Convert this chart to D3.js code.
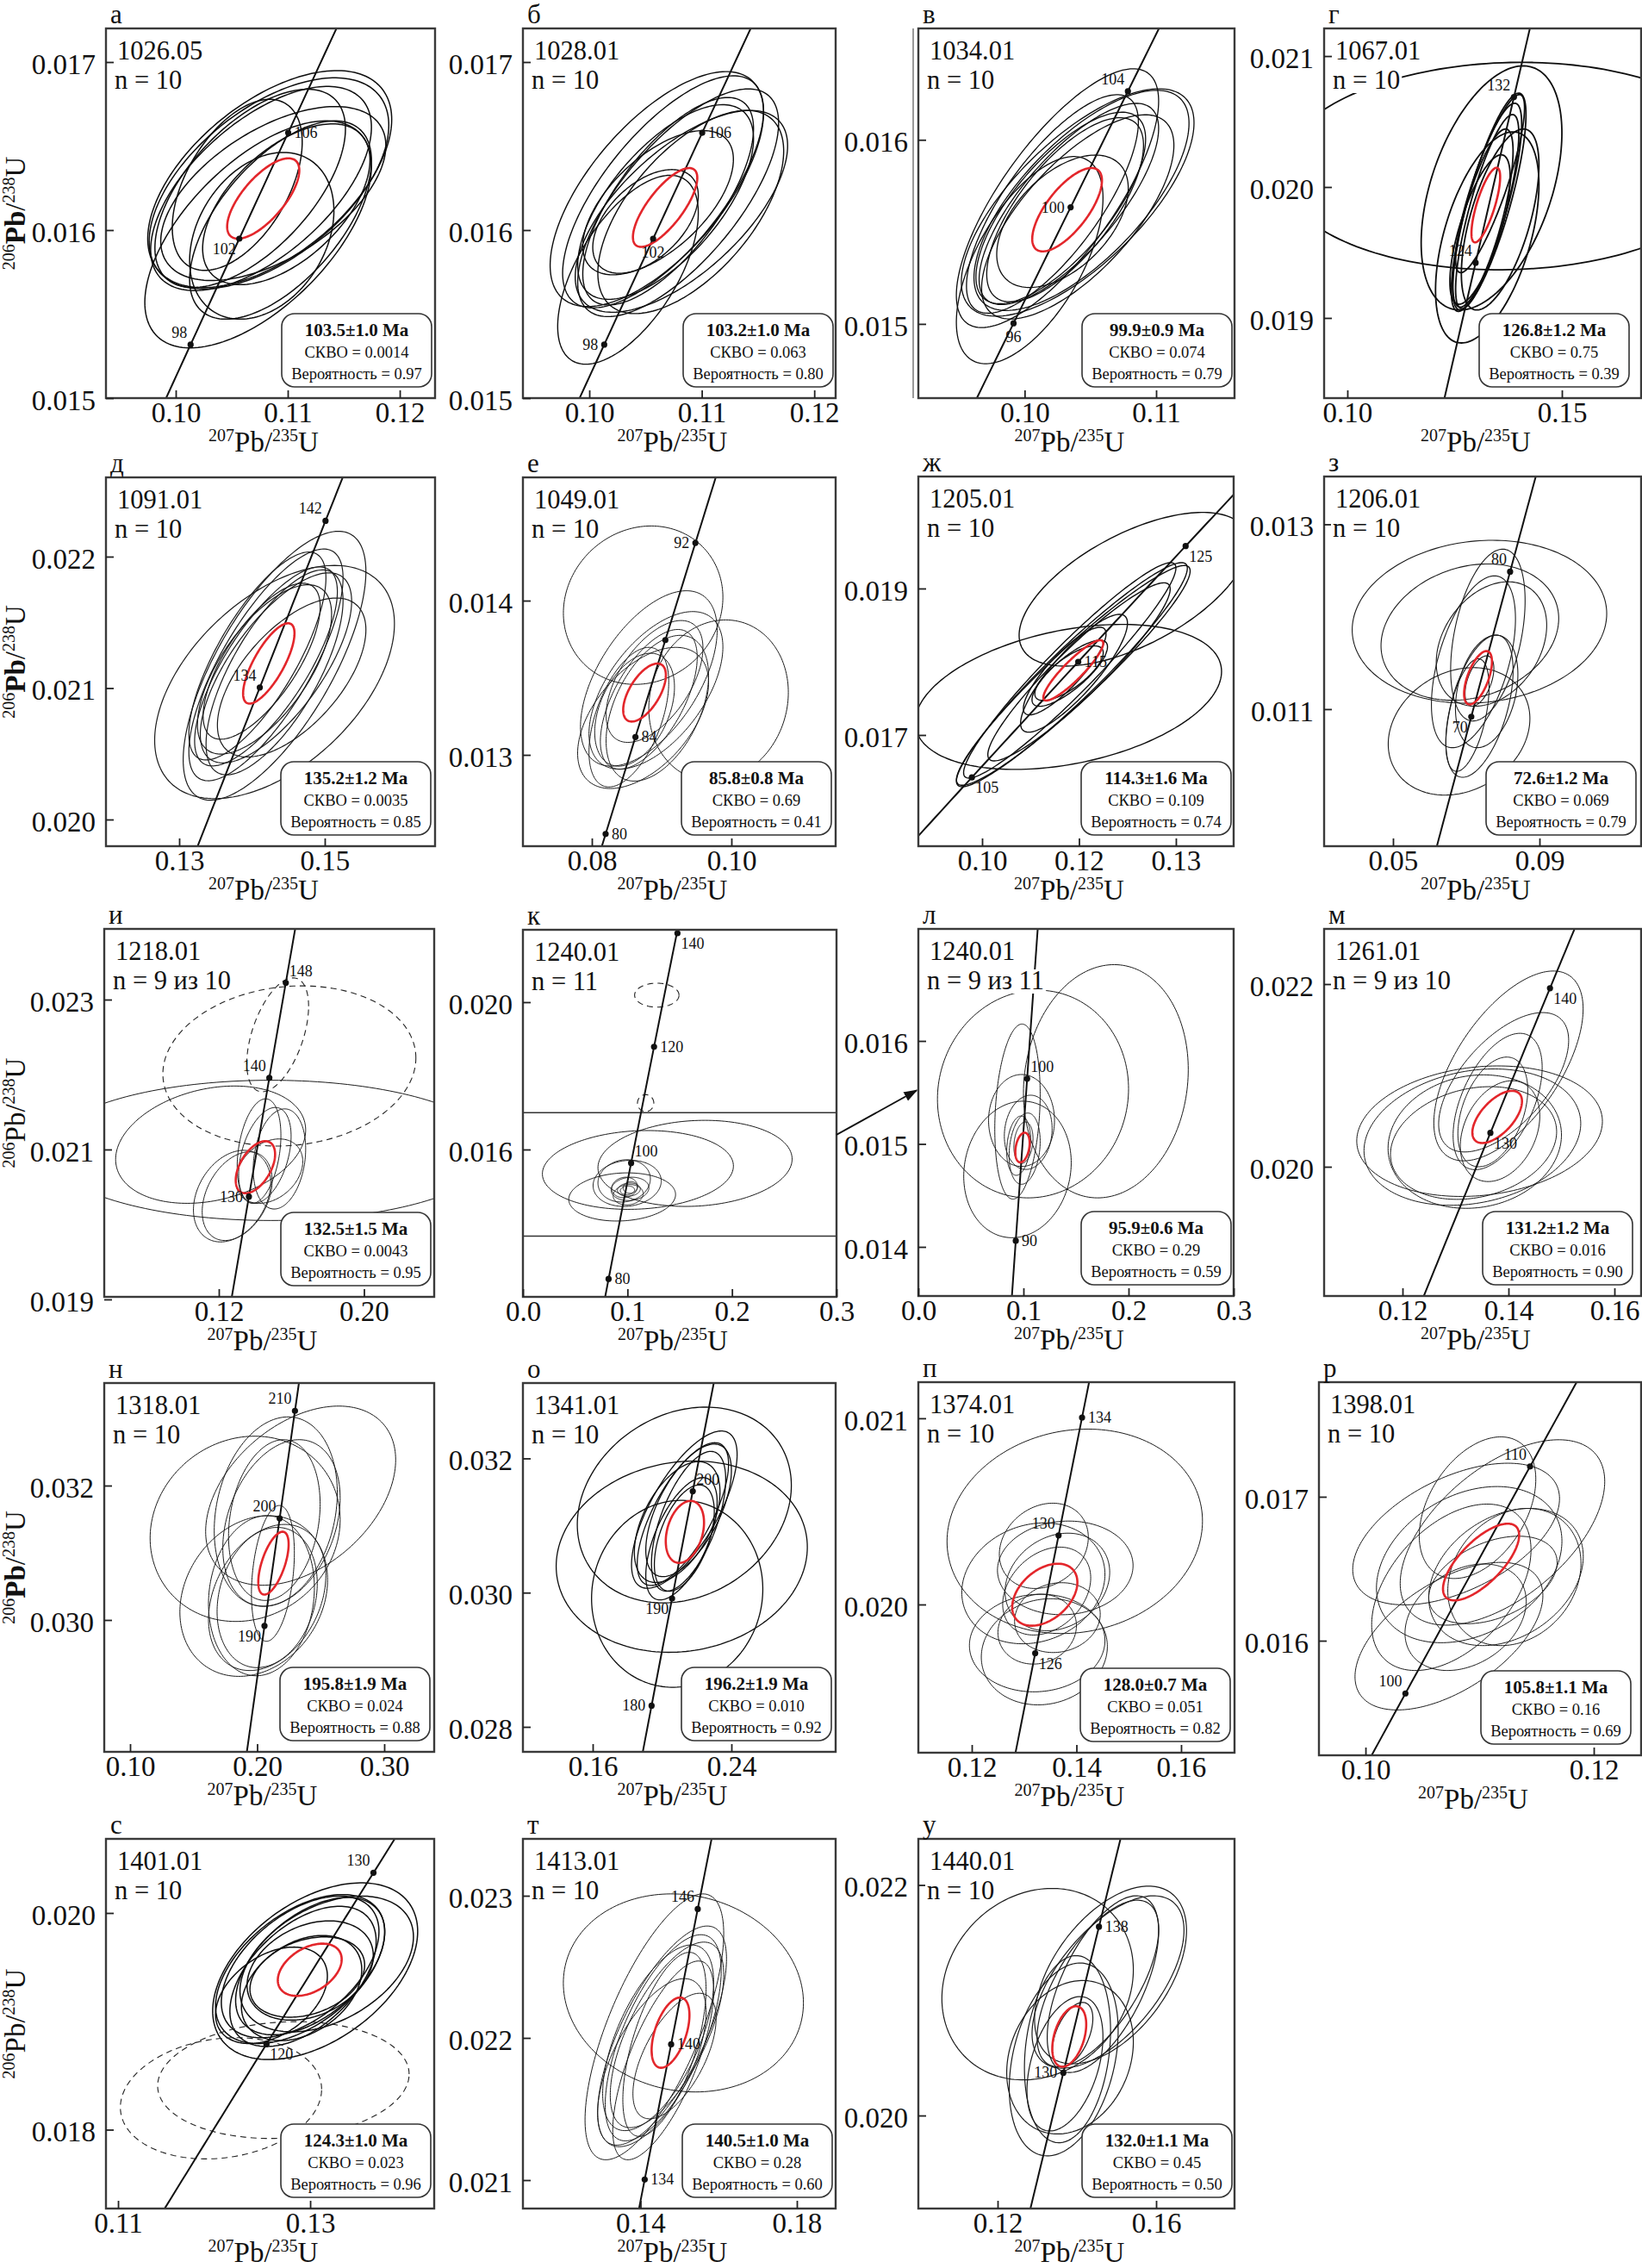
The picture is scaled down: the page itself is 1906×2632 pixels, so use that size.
<!DOCTYPE html>
<html><head><meta charset="utf-8">
<script src="https://cdn.jsdelivr.net/npm/d3@7"></script>
<style>
body{margin:0;background:#fff}
svg{display:block;background:#fff}
text{font-family:"Liberation Serif","Times New Roman",serif;fill:#111}
</style>
</head><body>
<svg id="c" width="1906" height="2632"></svg>
<script>
// ---------------- DATA ----------------
const panelLetters = ['а','б','в','г','д','е','ж','з','и','к','л','м','н','о','п','р','с','т','у'];
const sampleNames = ['1026.05','1028.01','1034.01','1067.01','1091.01','1049.01','1205.01','1206.01','1218.01','1240.01','1240.01','1261.01','1318.01','1341.01','1374.01','1398.01','1401.01','1413.01','1440.01'];
const nLabels = ['n = 10','n = 10','n = 10','n = 10','n = 10','n = 10','n = 10','n = 10','n = 9 из 10','n = 11','n = 9 из 11','n = 9 из 10','n = 10','n = 10','n = 10','n = 10','n = 10','n = 10','n = 10'];
const meanAges = ['103.5±1.0 Ma','103.2±1.0 Ma','99.9±0.9 Ma','126.8±1.2 Ma','135.2±1.2 Ma','85.8±0.8 Ma','114.3±1.6 Ma','72.6±1.2 Ma','132.5±1.5 Ma',null,'95.9±0.6 Ma','131.2±1.2 Ma','195.8±1.9 Ma','196.2±1.9 Ma','128.0±0.7 Ma','105.8±1.1 Ma','124.3±1.0 Ma','140.5±1.0 Ma','132.0±1.1 Ma'];
const mswdValues = ['0.0014','0.063','0.074','0.75','0.0035','0.69','0.109','0.069','0.0043',null,'0.29','0.016','0.024','0.010','0.051','0.16','0.023','0.28','0.45'];
const probValues = ['0.97','0.80','0.79','0.39','0.85','0.41','0.74','0.79','0.95',null,'0.59','0.90','0.88','0.92','0.82','0.69','0.96','0.60','0.50'];

const xDomains = [[0.09377,0.12315],[0.0941,0.1219],[0.09192,0.11596],[0.09458,0.16847],[0.11994,0.16515],[0.07012,0.11494],[0.10342,0.13596],[0.03118,0.11776],[0.05685,0.2387],[0,0.3],[0,0.3],[0.1052,0.16504],[0.07966,0.33932],[0.11975,0.30012],[0.10979,0.17021],[0.09592,0.12415],[0.10874,0.14291],[0.10992,0.18992],[0.1,0.17978]];
const yDomains = [[0.015,0.0172],[0.015,0.0172],[0.014597,0.016605],[0.018388,0.021211],[0.019797,0.022603],[0.012408,0.014799],[0.015482,0.020529],[0.009517,0.013517],[0.019034,0.023943],[0.012,0.021965],[0.013523,0.017088],[0.018585,0.022604],[0.028038,0.033526],[0.027628,0.033123],[0.019204,0.021194],[0.015204,0.017796],[0.017272,0.020684],[0.0208,0.0234],[0.019193,0.0224]];

const xTickValues = [[0.10,0.11,0.12],[0.10,0.11,0.12],[0.10,0.11],[0.10,0.15],[0.13,0.15],[0.08,0.10],[0.11,0.12,0.13],[0.05,0.09],[0.12,0.20],[0,0.1,0.2,0.3],[0,0.1,0.2,0.3],[0.12,0.14,0.16],[0.10,0.20,0.30],[0.16,0.24],[0.12,0.14,0.16],[0.10,0.12],[0.11,0.13],[0.14,0.18],[0.12,0.16]];
const xTickLabels = [['0.10','0.11','0.12'],['0.10','0.11','0.12'],['0.10','0.11'],['0.10','0.15'],['0.13','0.15'],['0.08','0.10'],['0.10','0.12','0.13'],['0.05','0.09'],['0.12','0.20'],['0.0','0.1','0.2','0.3'],['0.0','0.1','0.2','0.3'],['0.12','0.14','0.16'],['0.10','0.20','0.30'],['0.16','0.24'],['0.12','0.14','0.16'],['0.10','0.12'],['0.11','0.13'],['0.14','0.18'],['0.12','0.16']];
const yTickValues = [[0.015,0.016,0.017],[0.015,0.016,0.017],[0.015,0.016],[0.019,0.020,0.021],[0.020,0.021,0.022],[0.013,0.014],[0.017,0.019],[0.011,0.013],[0.019,0.021,0.023],[0.016,0.020],[0.014,0.015,0.016],[0.020,0.022],[0.030,0.032],[0.028,0.030,0.032],[0.020,0.021],[0.016,0.017],[0.018,0.020],[0.021,0.022,0.023],[0.020,0.022]];
const yTickLabels = [['0.015','0.016','0.017'],['0.015','0.016','0.017'],['0.015','0.016'],['0.019','0.020','0.021'],['0.020','0.021','0.022'],['0.013','0.014'],['0.017','0.019'],['0.011','0.013'],['0.019','0.021','0.023'],['0.016','0.020'],['0.014','0.015','0.016'],['0.020','0.022'],['0.030','0.032'],['0.028','0.030','0.032'],['0.020','0.021'],['0.016','0.017'],['0.018','0.020'],['0.021','0.022','0.023'],['0.020','0.022']];

// concordia age marks (Ma)
const concordiaAges = [[98,102,106],[98,102,106],[96,100,104],[124,132],[134,142],[80,84,88,92],[105,115,125],[70,80],[130,140,148],[80,100,120,140],[90,100],[130,140],[190,200,210],[180,190,200],[126,130,134],[100,110],[120,130],[134,140,146],[130,138]];
const showAgeLabel = [[1,1,1],[1,1,1],[1,1,1],[1,1],[1,1],[1,1,0,1],[1,1,1],[1,1],[1,1,1],[1,1,1,1],[1,1],[1,1],[1,1,1],[1,1,1],[1,1,1],[1,1],[1,1],[1,1,1],[1,1]];

// error ellipses: [x min, x max, y min, y max, rho] (207Pb/235U, 206Pb/238U)
const ellA = [[.09724,.11747,.015299,.01665,.6],[.0975,.11928,.015658,.016949,.55],[.09763,.11902,.01565,.016906,.55],[.09776,.11747,.01564,.016855,.6],[.09866,.11876,.0157,.016735,.55],[.09814,.11515,.015658,.016838,.6],[.10124,.11747,.01547,.01665,.6],[.10124,.11412,.01547,.016462,.3],[.09969,.11129,.01576,.016778,.5],[.1024,.11734,.015675,.016632,.55]];
const ellB = [[.09719,.10969,.015202,.016326,.6],[.09652,.11549,.015545,.016943,.65],[.09763,.11549,.015537,.016918,.7],[.09897,.11683,.015485,.01684,.7],[.09875,.11763,.015511,.016712,.65],[.09942,.1146,.015554,.016789,.7],[.09897,.1146,.015588,.016746,.65],[.10076,.11728,.015503,.016712,.6],[.09942,.11281,.015734,.016592,.6],[.10031,.10969,.015743,.01636,.5]];
const ellV = [[.09481,.10596,.014784,.015909,.6],[.09481,.11019,.01498,.016386,.75],[.09519,.11288,.015042,.016277,.7],[.09615,.1125,.015073,.016269,.7],[.09654,.11019,.015105,.016198,.75],[.09558,.10865,.015058,.016245,.75],[.09712,.10904,.01512,.01612,.7],[.09673,.11135,.015027,.016136,.7],[.09788,.10788,.015198,.015917,.5],[.0963,.1092,.01511,.01615,.72]];
const ellG = [[.0844,.1915,.019368,.020952,.05],[.1172,.15,.019061,.020925,.45],[.12055,.14465,.018809,.020421,.5],[.12456,.14163,.019061,.020717,.8],[.12423,.14063,.01905,.02064,.8],[.12523,.13996,.019072,.020553,.8],[.12456,.13862,.019083,.020443,.75],[.1239,.13795,.019105,.020246,.7],[.12523,.1413,.019346,.020706,.85],[.12657,.14465,.019061,.020443,.6]];
const ellD = [[.12663,.15957,.020159,.021933,.5],[.13055,.15565,.020147,.022193,.7],[.13133,.15251,.020295,.022058,.75],[.13212,.15173,.020408,.021922,.75],[.1329,.15369,.020431,.021877,.7],[.13329,.14937,.020611,.021798,.7],[.13133,.15016,.020453,.022035,.75],[.13525,.15565,.020476,.021685,.6],[.13251,.15094,.020498,.021786,.65],[.13369,.15251,.02034,.021899,.7]];
const ellE = [[.07592,.09878,.013457,.014484,.1],[.08816,.10816,.01283,.013875,.1],[.07837,.09796,.012927,.014064,.55],[.07959,.09878,.012908,.013929,.55],[.07796,.09673,.012782,.013697,.5],[.08122,.0951,.012907,.013813,.6],[.07959,.09102,.012792,.013697,.5],[.08204,.09592,.013081,.013871,.55],[.08041,.09184,.012927,.013659,.4],[.08204,.09673,.01283,.013775,.45]];
const ellZh = [[.10309,.13471,.01653,.01851,.35],[.11382,.1375,.017941,.020039,.6],[.10735,.13118,.016294,.019353,.95],[.10735,.13147,.016314,.019314,.95],[.10809,.13,.016412,.019353,.95],[.11059,.12941,.016647,.019078,.93],[.11397,.125,.017039,.018647,.85],[.11426,.12279,.017275,.018471,.85],[.11515,.12294,.017392,.018294,.8],[.11544,.1225,.017471,.018216,.75]];
const ellZ = [[.03885,.10836,.011064,.012827,.1],[.04672,.09525,.011096,.012571,.2],[.04869,.08738,.01007,.011449,.2],[.06574,.08607,.010872,.012731,.4],[.06049,.08344,.010583,.012442,.5],[.0618,.09197,.011032,.012378,.3],[.06443,.08279,.010263,.011801,.5],[.06443,.07623,.010327,.011545,.5],[.06705,.0841,.010583,.011801,.3],[.06967,.07754,.011032,.011577,.5]];
const ellI = [[.0249,.27229,.020053,.021924,0],[.06313,.16787,.020282,.021847,.25],[.10602,.14859,.019767,.020989,.3],[.11084,.1494,.019786,.020969,.35],[.13012,.15422,.020282,.021676,.3],[.13092,.15984,.020282,.021561,.4],[.13896,.16787,.020206,.021542,.2],[.12932,.16627,.020282,.021141,.3]];
const ellK = [[.01863,.20137,.014376,.016515,.1],[.07178,.25753,.014455,.016792,.1],[.04384,.14603,.014059,.015366,.1],[.06712,.13233,.014455,.015707,.1],[.07178,.12192,.014574,.015723,.1],[.08438,.12055,.014614,.015248,.1],[.08493,.10959,.014693,.015248,.1],[.09041,.11233,.014733,.015089,.1],[.0863,.11507,.014495,.01505,.1],[.09315,.10685,.014772,.01501,.1],[.09589,.10959,.014812,.015129,.1]];
const ellL = [[.01818,.2,.014476,.016493,.05],[.1,.25682,.014476,.016741,.1],[.04318,.14545,.014089,.015415,.1],[.06682,.12955,.014781,.015674,0],[.07273,.11591,.014464,.016164,.2],[.08182,.12727,.014752,.015473,.1],[.08636,.11591,.014608,.0153,.2],[.09091,.10909,.01481,.015213,.2],[.08409,.10682,.014695,.015271,.2]];
const ellM = [[.12591,.15409,.020065,.022143,.6],[.11136,.15773,.019675,.021104,.15],[.11273,.15364,.019578,.021071,.2],[.11727,.15,.019545,.021006,.1],[.11773,.14909,.019643,.020877,.2],[.12682,.15136,.020162,.021688,.6],[.12955,.14636,.019968,.021461,.5],[.13045,.14364,.02,.021201,.4],[.13091,.14591,.019838,.020942,.3]];
const ellN = [[.11577,.26532,.029978,.032735,.1],[.13919,.25541,.029161,.031552,.2],[.16171,.24505,.02917,.031552,.1],[.15946,.30901,.030517,.033183,.4],[.16622,.26306,.030204,.033022,.2],[.17297,.26532,.030204,.032683,.3],[.17748,.24955,.030291,.032683,.2],[.16171,.25405,.029248,.031422,.3],[.16847,.2473,.029291,.031378,.2],[.1955,.22928,.029683,.031704,.3]];
const ellO = [[.15111,.27457,.029848,.032764,.2],[.13893,.28379,.029111,.031961,.1],[.15934,.25811,.02859,.031375,.05],[.18239,.24329,.030065,.032408,.7],[.18568,.23835,.030108,.032234,.7],[.19062,.24,.030239,.032213,.6],[.19391,.23671,.030022,.032104,.6],[.18403,.23342,.030152,.031952,.5],[.19062,.23177,.029892,.031714,.6],[.19556,.23012,.030022,.031605,.5]];
const ellP = [[.11527,.16409,.019844,.020942,.1],[.12527,.14227,.020086,.020544,.2],[.11809,.14545,.019789,.020438,.15],[.12491,.15082,.019945,.020448,.05],[.12636,.14636,.019859,.020383,.2],[.12591,.14273,.019836,.020308,.3],[.11955,.14545,.019531,.020055,.05],[.12182,.14591,.019461,.020031,.1],[.125,.14,.01968,.020055,.1],[.12818,.14455,.019742,.020117,.1]];
const ellR = [[.09908,.11554,.015519,.016544,.55],[.09888,.117,.016249,.017233,.5],[.10304,.12096,.016108,.017396,.55],[.10096,.11721,.015986,.017071,.3],[.10471,.11492,.016432,.017416,.4],[.10554,.11908,.015966,.016919,.3],[.10054,.1145,.015793,.016949,.45],[.10346,.11408,.015793,.016533,.3],[.10721,.11888,.015966,.016919,.2],[.10554,.11679,.016118,.016726,.4]];
const ellS = [[.11985,.14119,.018647,.020278,.45],[.12015,.13776,.018795,.02017,.5],[.12075,.13716,.018849,.020156,.5],[.12164,.13687,.018768,.020062,.5],[.12224,.13776,.018876,.020143,.5],[.12269,.14075,.018903,.020156,.4],[.12343,.13657,.019011,.019927,.3],[.12373,.13567,.019038,.019779,.3],[.12015,.13179,.018795,.019685,.4],[.12284,.13537,.018822,.019792,.35]];
const ellT = [[.12026,.18168,.02162,.023013,-.1],[.12581,.16129,.021143,.023013,.7],[.12903,.162,.021246,.022787,.7],[.13097,.16065,.021276,.022726,.65],[.13226,.16129,.021369,.022674,.65],[.13032,.15871,.021348,.022654,.6],[.12903,.15677,.021235,.022417,.6],[.1329,.15871,.021143,.022541,.7],[.13806,.15935,.021431,.022314,.6],[.13548,.15677,.021307,.022602,.6]];
const ellU = [[.10594,.15425,.020309,.02197,.15],[.12933,.16767,.020449,.02199,.5],[.12869,.16703,.020411,.021906,.6],[.12997,.16064,.020423,.021868,.65],[.13252,.16064,.020373,.021906,.6],[.12294,.15042,.01965,.021323,.3],[.12677,.1485,.019764,.021387,.2],[.1223,.15425,.01984,.021171,.2],[.12741,.14658,.019866,.021032,.4],[.1338,.14403,.020423,.020981,.5]];

// excluded analyses (dashed)
const exclI = [[.08916,.22861,.021046,.023183,.1],[.13542,.16948,.021771,.02329,.5]];
const exclK = [[.10685,.14932,.019865,.020515,0],[.10959,.12521,.01703,.017489,0]];
const exclS = [[.11024,.13119,.01773,.018849,.15],[.11412,.1403,.017919,.018997,.1]];

// weighted mean concordia ellipses (red)
const meanEllipses = [[.10459,.11103,.015949,.016427,.7],[.10388,.1096,.0159,.016369,.75],[.10058,.10588,.015394,.015847,.7],[.12892,.13561,.019577,.020147,.75],[.13878,.14584,.020882,.021493,.75],[.08449,.09061,.013216,.013592,.6],[.11632,.1225,.017471,.018294,.9],[.06941,.07702,.011051,.011628,.6],[.12932,.15101,.020416,.021111,.5],null,[.09227,.10591,.014821,.015109,.3],[.13318,.14255,.02026,.020831,.6],[.2009,.22477,.030378,.031313,.6],[.20214,.2242,.030443,.031367,.3],[.12773,.14018,.019886,.020219,.4],[.10679,.11346,.01628,.016813,.7],[.12663,.13328,.019235,.019717,.4],[.14284,.15252,.02179,.022284,.5],[.1338,.14236,.020423,.020948,.4]];

// panel к: zoom window (206Pb/238U) and arrow ends
const zoomWindowY = [0.01365, 0.017];
const arrowFromK = [0.3, 0.0164];
const arrowToL = [0, 0.01552];

// decay constants (1/yr)
const LAMBDA238 = 1.55125e-10, LAMBDA235 = 9.8485e-10;

// ---------------- LAYOUT ----------------
const panelBox = [[123,33,505,462],[607,33,970,462],[1066,33,1433,462],[1537,33,1905,462],[123,554,505,982],[607,554,970,982],[1066,553,1432,982],[1537,553,1905,982],[121,1078,504,1505],[607,1079,971,1505],[1066,1078,1432,1504],[1537,1078,1905,1504],[121,1605,504,2033],[607,1605,970,2033],[1066,1604,1433,2034],[1531,1604,1905,2037],[123,2134,504,2563],[607,2134,970,2563],[1066,2134,1433,2563]];
const ageLabelPos = [['UL','BL','R'],['L','B','R'],['B','L','UL'],['UL','UL'],['UL','UL'],['R','R','R','L'],['BR','R','BR'],['BL','UL'],['L','UL','UR'],['R','UR','R','BR'],['R','UR'],['BR','BR'],['BL','UL','UL'],['L','BL','UR'],['BR','UL','R'],['UL','UL'],['BR','UL'],['R','R','UL'],['L','R']];
const infoInset = [4,3,3,14,5,5,3,6,4,0,3,10,5,5,5,12,4,4,3];
const ellWidth = [1.5,1.4,1.3,1.8,1.2,1.0,1.4,1.1,1.0,1.0,1.0,1.0,1.0,1.3,1.0,1.0,1.5,1.0,1.2];
const yTitleBold = {0:true,4:true,12:true};

const ellipseSets = [ellA,ellB,ellV,ellG,ellD,ellE,ellZh,ellZ,ellI,ellK,ellL,ellM,ellN,ellO,ellP,ellR,ellS,ellT,ellU];
const excludedSets = {8:exclI, 9:exclK, 16:exclS};

const labelOff = {R:['start',7,6],L:['end',-7,6],UL:['end',-4,-8],UR:['start',4,-8],BL:['end',-4,18],BR:['start',4,18],B:['middle',0,22]};

const svg = d3.select('#c');
const defs = svg.append('defs');
defs.append('marker').attr('id','arr').attr('viewBox','0 0 10 10').attr('refX',9).attr('refY',5)
  .attr('markerWidth',9).attr('markerHeight',9).attr('orient','auto')
  .append('path').attr('d','M0,1.5 L10,5 L0,8.5 Z').attr('fill','#111');

function ellipsePoints(e){
  const [x0,x1,y0,y1,r] = e;
  const cx=(x0+x1)/2, cy=(y0+y1)/2, sx=(x1-x0)/2, sy=(y1-y0)/2, q=Math.sqrt(1-r*r);
  return d3.range(0, 2*Math.PI, Math.PI/90).map(t=>[cx+sx*Math.cos(t), cy+sy*(r*Math.cos(t)+q*Math.sin(t))]);
}
function concordia(tMa){ return [Math.exp(LAMBDA235*tMa*1e6)-1, Math.exp(LAMBDA238*tMa*1e6)-1]; }

const scales = [];
panelLetters.forEach((letter,i)=>{
  const [L,T,R,B] = panelBox[i];
  const x = d3.scaleLinear().domain(xDomains[i]).range([L,R]);
  const y = d3.scaleLinear().domain(yDomains[i]).range([B,T]);
  scales.push([x,y]);
  const g = svg.append('g');
  const cid = 'clip'+i;
  defs.append('clipPath').attr('id',cid).append('rect').attr('x',L).attr('y',T).attr('width',R-L).attr('height',B-T);
  const plot = g.append('g').attr('clip-path',`url(#${cid})`);
  const line = d3.line().x(d=>x(d[0])).y(d=>y(d[1]));
  const closed = d3.line().x(d=>x(d[0])).y(d=>y(d[1])).curve(d3.curveLinearClosed);

  if(i===9){
    zoomWindowY.forEach(v=>plot.append('line').attr('x1',L).attr('x2',R).attr('y1',y(v)).attr('y2',y(v)).attr('stroke','#333').attr('stroke-width',1.6));
  }
  ellipseSets[i].forEach(e=>{
    plot.append('path').attr('d',closed(ellipsePoints(e))).attr('fill','none')
      .attr('stroke', ellWidth[i]>1.25?'#0d0d0d':'#1c1c1c').attr('stroke-width',ellWidth[i]);
  });
  if(excludedSets[i]) excludedSets[i].forEach(e=>{
    plot.append('path').attr('d',closed(ellipsePoints(e))).attr('fill','none')
      .attr('stroke','#222').attr('stroke-width',1.1).attr('stroke-dasharray','7,5');
  });
  const cpts = d3.range(1, 400, 0.5).map(concordia);
  plot.append('path').attr('d',line(cpts)).attr('fill','none').attr('stroke','#111').attr('stroke-width',2);
  if(meanEllipses[i]){
    plot.append('path').attr('d',closed(ellipsePoints(meanEllipses[i]))).attr('fill','none')
      .attr('stroke','#e3262b').attr('stroke-width',2.6);
  }
  concordiaAges[i].forEach((a,j)=>{
    const p = concordia(a);
    const px=x(p[0]), py=Math.max(y(p[1]), T+4);
    g.append('circle').attr('cx',px).attr('cy',py).attr('r',3.6).attr('fill','#111');
    if(showAgeLabel[i][j]){
      const o = labelOff[ageLabelPos[i][j]];
      g.append('text').attr('x',px+o[1]).attr('y',Math.max(py+o[2],T+18)).attr('text-anchor',o[0])
        .attr('font-size',18).text(a);
    }
  });
  g.append('rect').attr('x',L).attr('y',T).attr('width',R-L).attr('height',B-T)
    .attr('fill','none').attr('stroke','#3a3a3a').attr('stroke-width',2.4);
  if(i===2){
    g.append('line').attr('x1',L-6).attr('x2',L-6).attr('y1',T).attr('y2',B).attr('stroke','#555').attr('stroke-width',1.2);
  }
  const xa = d3.axisBottom(x).tickValues(xTickValues[i]).tickFormat((d,k)=>xTickLabels[i][k])
    .tickSizeInner(-9).tickSizeOuter(0).tickPadding(5);
  const gx = g.append('g').attr('transform',`translate(0,${B})`).call(xa);
  const ya = d3.axisLeft(y).tickValues(yTickValues[i]).tickFormat((d,k)=>yTickLabels[i][k])
    .tickSizeInner(-9).tickSizeOuter(0).tickPadding(12);
  const gy = g.append('g').attr('transform',`translate(${L},0)`).call(ya);
  [gx,gy].forEach(a=>{
    a.select('.domain').remove();
    a.selectAll('.tick line').attr('stroke','#222').attr('stroke-width',1.8);
    a.selectAll('.tick text').attr('font-size',33).attr('font-family','"Liberation Serif",serif').attr('fill','#111');
  });
  gy.selectAll('.tick text').attr('dy','0.4em');
  g.append('text').attr('x',L+5).attr('y',T-6).attr('font-size',31).text(letter);
  // sample name & n on a white patch
  const nameG = g.append('g');
  const t1 = nameG.append('text').attr('font-size',30.5).attr('x',L+13).attr('y',T+36).text(sampleNames[i]);
  const t2 = nameG.append('text').attr('font-size',30.5).attr('x',L+10).attr('y',T+70).text(nLabels[i]);
  [t1,t2].forEach(t=>{
    const bb = t.node().getBBox();
    nameG.insert('rect','text').attr('x',bb.x-2).attr('y',bb.y+4).attr('width',bb.width+4).attr('height',bb.height-6).attr('fill','#fff');
  });
  // info box
  if(meanAges[i]){
    const bw=174, bh=85, bx=R-infoInset[i]-bw, by=B-13-bh;
    g.append('rect').attr('x',bx).attr('y',by).attr('width',bw).attr('height',bh).attr('rx',15)
      .attr('fill','#fff').attr('stroke','#333').attr('stroke-width',1.6);
    const it = g.append('text').attr('text-anchor','middle').attr('font-size',18.5);
    it.append('tspan').attr('x',bx+bw/2).attr('y',by+26).attr('font-size',21).attr('font-weight','bold').text(meanAges[i]);
    it.append('tspan').attr('x',bx+bw/2).attr('y',by+51).text('СКВО = '+mswdValues[i]);
    it.append('tspan').attr('x',bx+bw/2).attr('y',by+76).text('Вероятность = '+probValues[i]);
  }
  const xt = g.append('text').attr('x',(L+R)/2-8).attr('y',B+62).attr('text-anchor','middle').attr('font-size',33);
  xt.append('tspan').attr('font-size',20).attr('dy',-12).text('207');
  xt.append('tspan').attr('dy',12).text('Pb/');
  xt.append('tspan').attr('font-size',20).attr('dy',-12).text('235');
  xt.append('tspan').attr('dy',12).text('U');
  if(i%4===0){
    const yt = g.append('text').attr('transform',`translate(29,${(T+B)/2}) rotate(-90)`).attr('text-anchor','middle').attr('font-size',33);
    yt.append('tspan').attr('font-size',20).attr('dy',-12).text('206');
    yt.append('tspan').attr('dy',12).attr('font-weight',yTitleBold[i]?'bold':'normal').text('Pb');
    yt.append('tspan').text('/');
    yt.append('tspan').attr('font-size',20).attr('dy',-12).text('238');
    yt.append('tspan').attr('dy',12).text('U');
  }
});

const [kx,ky] = scales[9], [lx,ly] = scales[10];
svg.append('line').attr('x1',kx(arrowFromK[0])).attr('y1',ky(arrowFromK[1]))
  .attr('x2',lx(arrowToL[0])-2).attr('y2',ly(arrowToL[1]))
  .attr('stroke','#111').attr('stroke-width',1.8).attr('marker-end','url(#arr)');
</script>
</body></html>
